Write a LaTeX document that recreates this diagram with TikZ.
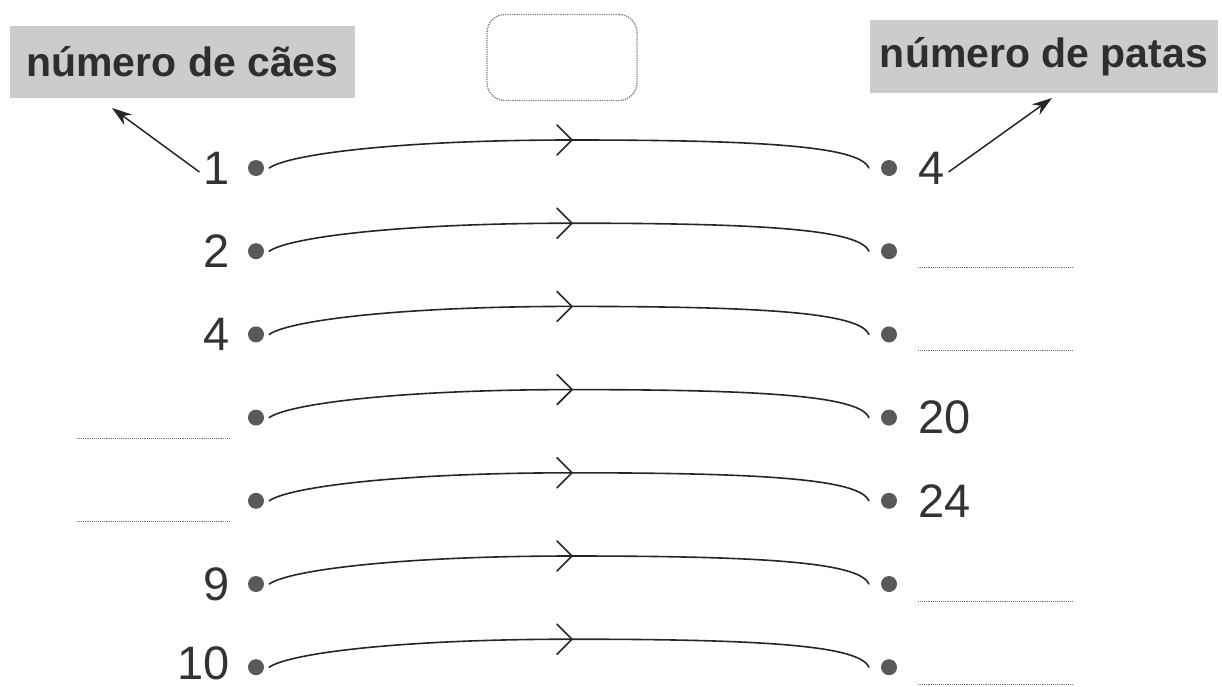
\documentclass[tikz,border=0pt]{standalone}
\usepackage{fontspec}
\setmainfont{Liberation Sans}
\usetikzlibrary{arrows.meta}
\begin{document}
\begin{tikzpicture}[x=1pt,y=-1pt,
  dot/.style={circle,fill=black!65,inner sep=0pt,minimum size=16pt},
  num/.style={font=\fontsize{47}{50}\selectfont,text=black!80,inner sep=0pt},
  lab/.style={fill=black!20,inner sep=0pt,font=\bfseries\fontsize{41}{44}\selectfont,text=black!82},
  arc/.style={line width=1.6pt,black!85,line cap=round},
  blank/.style={densely dotted,black!55,line width=0.9pt},
  pointer/.style={-{Stealth[length=20pt,width=13pt]},line width=1.5pt,black!85}]
\useasboundingbox (0,0) rectangle (1222,686);
% labels
\node[lab,minimum width=345pt,minimum height=72pt] (lc) at (182.5,61.5) {número de cães};
\node[lab,minimum width=348pt,minimum height=73pt] (lp) at (1044,56.5) {número de patas};
\node[draw=black!50,densely dotted,line width=1.3pt,rounded corners=18pt,minimum width=150pt,minimum height=86pt] (op) at (562,57.5) {};
% rows
\foreach \i in {1,...,7} {
  \pgfmathsetmacro\y{168+83.2*(\i-1)}
  \node[dot] (L\i) at (256,\y) {};
  \node[dot] (R\i) at (889,\y) {};
  \coordinate (M\i) at (572,\y-28);
  \draw[arc] ([xshift=5pt]L\i.east) .. controls +(20,-14) and (400,\y-28) .. (M\i)
     .. controls (760,\y-28) and (860,\y-22) .. ([xshift=-12pt]R\i.west);
  \draw[arc] ([shift={(-15pt,-15pt)}]M\i) -- (M\i) -- ([shift={(-15pt,15pt)}]M\i);
}
% left values
\node[num,anchor=east] (n1) at (230,168) {1};
\node[num,anchor=east] (n2) at (230,251.2) {2};
\node[num,anchor=east] (n4) at (230,334.4) {4};
\node[num,anchor=east] (n9) at (230,667.2-83.2) {9};
\node[num,anchor=east] (n10) at (230,663) {10};
% right values
\node[num,anchor=west] (p4) at (918,168) {4};
\node[num,anchor=west] (p20) at (918,417.6) {20};
\node[num,anchor=west] (p24) at (918,500.8) {24};
% blanks
\coordinate (b4a) at (77,438); \coordinate (b4b) at (230,438);
\coordinate (b5a) at (77,521); \coordinate (b5b) at (230,521);
\draw[blank] (b4a) -- (b4b);
\draw[blank] (b5a) -- (b5b);
\coordinate (r2a) at (918,267); \coordinate (r2b) at (1073,267);
\coordinate (r3a) at (918,350); \coordinate (r3b) at (1073,350);
\coordinate (r6a) at (918,601); \coordinate (r6b) at (1073,601);
\coordinate (r7a) at (918,684); \coordinate (r7b) at (1073,684);
\draw[blank] (r2a) -- (r2b);
\draw[blank] (r3a) -- (r3b);
\draw[blank] (r6a) -- (r6b);
\draw[blank] (r7a) -- (r7b);
% pointers
\coordinate (lt) at (112,108);
\coordinate (rt) at (1052,98);
\draw[pointer] ([xshift=-4pt,yshift=-4pt]n1.west) -- (lt);
\draw[pointer] ([xshift=4pt,yshift=-4pt]p4.east) -- (rt);
\end{tikzpicture}
\end{document}
